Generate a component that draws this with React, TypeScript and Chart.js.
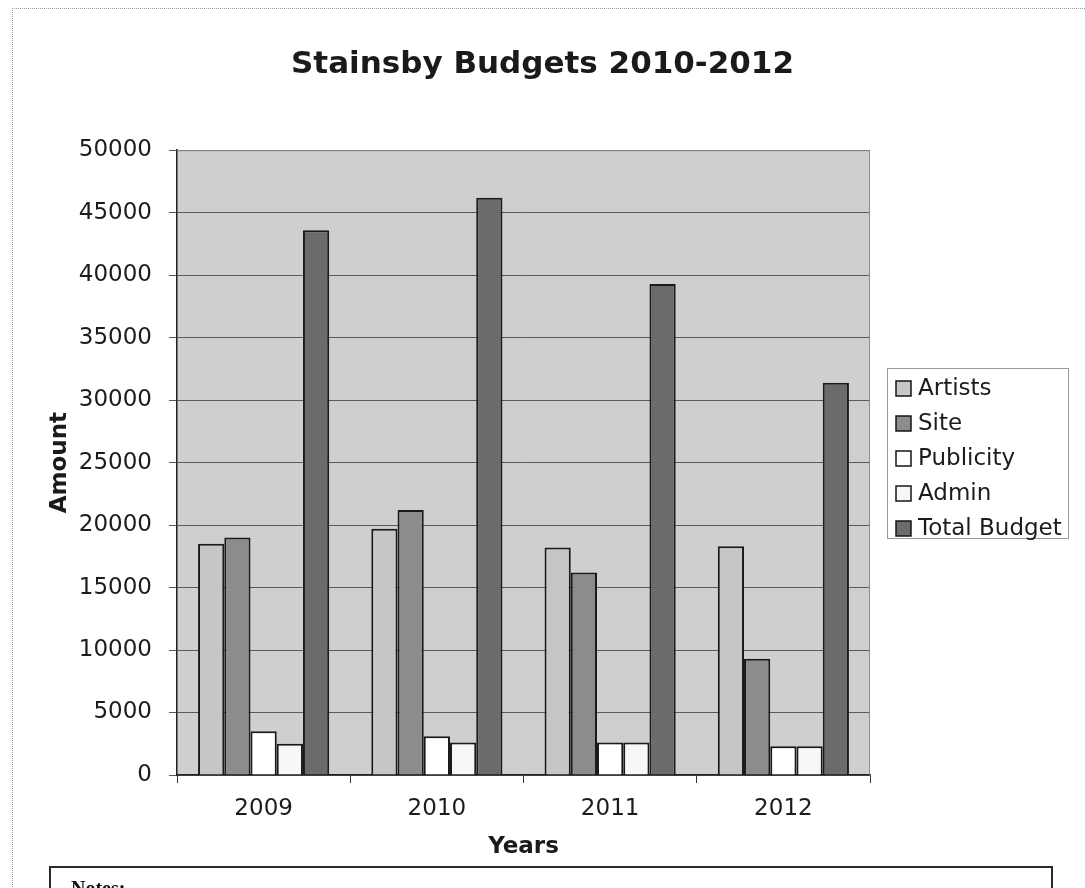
import React, { useEffect, useRef } from 'react';
import { Chart, registerables } from 'chart.js';

Chart.register(...registerables);

const years = ['2009', '2010', '2011', '2012'];
const seriesNames = ['Artists', 'Site', 'Publicity', 'Admin', 'Total Budget'];
const artists = [18500, 19700, 18200, 18300];
const site = [19000, 21200, 16200, 9300];
const publicity = [3500, 3100, 2600, 2300];
const admin = [2500, 2600, 2600, 2300];
const totalBudget = [43600, 46200, 39300, 31400];
const yMin = 0;
const yMax = 50000;
const yStep = 5000;

const seriesColors = ['#c6c6c6', '#8c8c8c', '#ffffff', '#f7f7f7', '#6b6b6b'];
const FONT = 'DejaVu Sans';

const plotBg = {
  id: 'plotBg',
  beforeDraw(chart: any) {
    const { ctx, chartArea: a } = chart;
    ctx.save();
    ctx.fillStyle = '#cfcfcf';
    ctx.fillRect(a.left, a.top, a.right - a.left, a.bottom - a.top);
    ctx.restore();
  },
  beforeDatasetsDraw(chart: any) {
    const { ctx, chartArea: a } = chart;
    ctx.save();
    ctx.strokeStyle = '#8a8a8a';
    ctx.lineWidth = 1;
    ctx.beginPath();
    ctx.moveTo(a.left, a.top + 0.5);
    ctx.lineTo(a.right - 0.5, a.top + 0.5);
    ctx.lineTo(a.right - 0.5, a.bottom);
    ctx.stroke();
    ctx.restore();
  },
};

const legendBox = {
  id: 'legendBox',
  afterDraw(chart: any) {
    const { ctx, chartArea: a } = chart;
    const x0 = a.right + 17;
    const y0 = 368;
    const w = 181;
    const h = 170;
    ctx.save();
    ctx.strokeStyle = '#9a9a9a';
    ctx.lineWidth = 1;
    ctx.strokeRect(x0 + 0.5, y0 + 0.5, w, h);
    ctx.font = `23px "${FONT}"`;
    ctx.textBaseline = 'middle';
    ctx.textAlign = 'left';
    chart.data.datasets.forEach((ds: any, i: number) => {
      const cy = y0 + 20 + i * 35;
      ctx.fillStyle = ds.backgroundColor;
      ctx.fillRect(x0 + 9, cy - 7, 15, 15);
      ctx.strokeStyle = '#151515';
      ctx.lineWidth = 1.5;
      ctx.strokeRect(x0 + 9, cy - 7, 15, 15);
      ctx.fillStyle = '#1c1c1c';
      ctx.fillText(ds.label, x0 + 31, cy + 1);
    });
    ctx.restore();
  },
};

export default function App() {
  const ref = useRef<HTMLCanvasElement | null>(null);

  useEffect(() => {
    if (!ref.current) return;
    const values = [artists, site, publicity, admin, totalBudget];
    const chart = new Chart(ref.current, {
      type: 'bar',
      data: {
        labels: years,
        datasets: seriesNames.map((name, i) => ({
          label: name,
          data: values[i],
          backgroundColor: seriesColors[i],
          borderColor: '#1a1a1a',
          borderWidth: 2,
          categoryPercentage: 0.757,
          barPercentage: 1.0,
        })),
      },
      options: {
        animation: false,
        responsive: false,
        devicePixelRatio: 1,
        layout: { padding: 0 },
        plugins: {
          legend: { display: false },
          tooltip: { enabled: false },
          title: {
            display: true,
            text: 'Stainsby Budgets 2010-2012',
            color: '#1a1a1a',
            font: { family: FONT, size: 31, weight: 'bold' },
            padding: { top: 46, bottom: 67 },
            fullSize: true,
          },
        },
        scales: {
          x: {
            grid: {
              offset: true,
              drawOnChartArea: false,
              color: '#333',
              tickLength: 8,
            },
            border: { color: '#222', width: 1.5 },
            ticks: {
              color: '#1c1c1c',
              font: { family: FONT, size: 23 },
              padding: 12,
            },
            title: {
              display: true,
              text: 'Years',
              color: '#1a1a1a',
              font: { family: FONT, size: 23, weight: 'bold' },
              padding: { top: 0, bottom: 9 },
            },
            afterFit(scale: any) {
              scale.height = 95;
            },
          },
          y: {
            min: yMin,
            max: yMax,
            grid: {
              color: '#5a5a5a',
              lineWidth: 1,
              tickLength: 8,
            },
            border: { color: '#222', width: 1.5 },
            ticks: {
              stepSize: yStep,
              color: '#1c1c1c',
              font: { family: FONT, size: 23 },
              padding: 17,
              callback: (v: any) => String(v),
            },
            title: {
              display: true,
              text: 'Amount',
              color: '#1a1a1a',
              font: { family: FONT, size: 23, weight: 'bold' },
              padding: { top: 46, bottom: 0 },
            },
            afterFit(scale: any) {
              scale.width = 177;
            },
          },
          spacer: {
            type: 'linear',
            position: 'right',
            display: true,
            grid: { display: false, drawTicks: false },
            border: { display: false },
            ticks: { display: false },
            afterFit(scale: any) {
              scale.width = 215;
            },
          },
        },
      } as any,
      plugins: [plotBg, legendBox],
    });
    return () => chart.destroy();
  }, []);

  return (
    <div
      style={{
        position: 'absolute',
        left: 0,
        top: 0,
        width: 1085,
        height: 888,
        overflow: 'hidden',
        background: '#fff',
      }}
    >
      <div
        style={{
          position: 'absolute',
          left: 12,
          top: 8,
          width: 1100,
          height: 900,
          borderLeft: '1px dotted #999',
          borderTop: '1px dotted #999',
        }}
      />
      <canvas
        ref={ref}
        width={1085}
        height={870}
        style={{ position: 'absolute', left: 0, top: 0, width: 1085, height: 870 }}
      />
      <div
        style={{
          position: 'absolute',
          left: 49,
          top: 866,
          width: 1004,
          height: 100,
          border: '2px solid #2a2a2a',
          boxSizing: 'border-box',
          padding: '9px 0 0 20px',
          fontFamily: '"Liberation Serif", serif',
          fontWeight: 'bold',
          fontSize: 20,
          color: '#111',
        }}
      >
        Notes:
      </div>
    </div>
  );
}
